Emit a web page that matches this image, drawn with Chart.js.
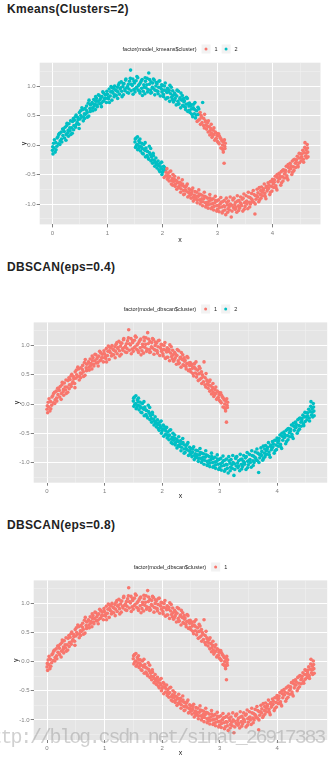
<!DOCTYPE html>
<html>
<head>
<meta charset="utf-8">
<script src="https://cdn.jsdelivr.net/npm/chart.js@4/dist/chart.umd.min.js"></script>
<style>
  html, body { margin: 0; padding: 0; background: #fff; }
  body { position: relative; width: 335px; height: 757px; overflow: hidden; font-family: "Liberation Sans", Arial, sans-serif; }
  .heading { position: absolute; left: 7px; margin: 0; font-size: 12px; line-height: 14px; font-weight: bold; letter-spacing: 0.3px; color: #222; }
  canvas { position: absolute; left: 0; }
  .mark { position: absolute; left: -19px; top: 728px; font-family: "Liberation Mono", monospace; font-size: 20px; line-height: 20px; letter-spacing: -2.2px; color: rgba(150,150,150,0.45); white-space: nowrap; }
</style>
</head>
<body>
<h3 class="heading" style="top:2px">Kmeans(Clusters=2)</h3>
<canvas id="kmeansChart" width="335" height="212" style="top:38px"></canvas>
<h3 class="heading" style="top:260px">DBSCAN(eps=0.4)</h3>
<canvas id="dbscan04Chart" width="335" height="206" style="top:298px"></canvas>
<h3 class="heading" style="top:518px">DBSCAN(eps=0.8)</h3>
<canvas id="dbscan08Chart" width="335" height="201" style="top:556px"></canvas>
<div class="mark">http://blog.csdn.net/sinat_26917383</div>
<script>
// two moons, split in four pieces so each clustering can regroup them
const upperArc = [
  [0.00,-0.09],[0.01,-0.15],[0.02,0.03],[0.03,-0.05],[0.05,-0.12],[0.06,0.04],[0.08,-0.02],
  [0.10,0.14],[0.11,0.02],[0.13,0.20],[0.14,0.07],[0.16,0.22],[0.17,0.05],[0.19,0.16],
  [0.20,0.27],[0.22,0.12],[0.23,0.30],[0.25,0.18],[0.26,0.33],[0.28,0.21],[0.29,0.15],
  [0.30,0.36],[0.32,0.24],[0.33,0.41],[0.35,0.29],[0.36,0.20],[0.38,0.45],[0.39,0.33],
  [0.40,0.42],[0.42,0.30],[0.43,0.51],[0.45,0.38],[0.46,0.47],[0.48,0.35],[0.49,0.55],
  [0.50,0.44],[0.51,0.58],[0.53,0.47],[0.55,0.60],[0.56,0.41],[0.58,0.53],[0.59,0.62],
  [0.60,0.52],[0.62,0.66],[0.63,0.55],[0.65,0.71],[0.66,0.49],[0.68,0.62],[0.69,0.68],
  [0.70,0.58],[0.72,0.72],[0.73,0.63],[0.75,0.77],[0.76,0.66],[0.78,0.60],[0.79,0.74],
  [0.80,0.79],[0.81,0.68],[0.83,0.74],[0.85,0.84],[0.86,0.70],[0.88,0.80],[0.89,0.65],
  [0.90,0.82],[0.92,0.74],[0.93,0.88],[0.95,0.79],[0.96,0.85],[0.98,0.72],[0.99,0.91],
  [1.00,0.86],[1.02,0.78],[1.03,0.95],[1.05,0.83],[1.06,0.90],[1.08,0.76],[1.09,0.97],
  [1.10,0.88],[1.12,0.82],[1.13,1.00],[1.15,0.93],[1.16,0.84],[1.18,0.98],[1.19,0.90],
  [1.20,1.02],[1.22,0.86],[1.23,0.95],[1.25,1.07],[1.26,0.91],[1.28,0.99],[1.29,0.85],
  [1.30,1.04],[1.32,0.92],[1.33,1.10],[1.35,0.97],[1.36,0.89],[1.38,1.03],[1.39,0.95],
  [1.40,1.08],[1.42,1.27],[1.43,0.92],[1.45,1.01],[1.46,1.12],[1.48,0.94],[1.49,1.05],
  [1.50,0.90],[1.52,1.09],[1.53,0.98],[1.55,1.14],[1.56,0.93],[1.58,1.03],[1.59,0.88],
  [1.60,1.06],[1.62,0.96],[1.63,1.11],[1.65,0.91],[1.66,1.02],[1.68,0.87],[1.69,1.08],
  [1.70,0.97],[1.72,1.13],[1.73,0.90],[1.75,1.22],[1.76,1.03],[1.78,0.93],[1.79,1.07],
  [1.80,0.89],[1.82,1.05],[1.83,0.96],[1.85,1.10],[1.86,0.85],[1.88,1.00],[1.89,0.92],
  [1.90,1.04],[1.92,0.87],[1.93,0.98],[1.95,1.09],[1.96,0.83],[1.98,0.95],[1.99,0.90],
  [2.00,1.01],[2.02,0.82],[2.03,0.93],[2.05,1.05],[2.06,0.78],[2.08,0.89],[2.09,0.96],
  [2.10,0.80],[2.12,0.93],[2.13,0.74],[2.15,0.87],[2.16,0.98],[2.18,0.77],[2.19,0.84],
  [2.20,0.73],[2.22,0.88],[2.23,0.79],[2.25,0.68],[2.26,0.83],[2.28,0.74],[2.29,0.91],
  [2.30,0.70],[2.32,0.80],[2.33,0.63],[2.35,0.76],[2.36,0.84],[2.38,0.66],[2.39,0.73],
  [2.40,0.75],[2.42,0.60],[2.43,0.69],[2.45,0.79],[2.46,0.57],[2.48,0.66],[2.49,0.71],
  [2.50,0.55],[2.52,0.68],[2.53,0.61],[2.55,0.48],[2.56,0.63],[2.58,0.53],[2.59,0.72],
  [2.60,0.46],[2.62,0.58],[2.65,0.52],[2.66,0.61],[2.73,0.72],
  [0.005,-0.03],[0.035,0.09],[0.065,-0.08],[0.085,0.12],
  [0.115,0.18],[0.135,0.01],[0.165,0.10],[0.185,0.27],
  [0.215,0.23],[0.245,0.08],[0.265,0.37],[0.285,0.25],
  [0.315,0.29],[0.335,0.18],[0.365,0.40],[0.385,0.26],
  [0.415,0.48],[0.435,0.35],[0.465,0.43],[0.485,0.28],
  [0.515,0.50],[0.535,0.63],[0.565,0.48],[0.585,0.45],
  [0.615,0.59],[0.635,0.47],[0.665,0.76],[0.685,0.57],
  [0.715,0.70],[0.735,0.58],[0.765,0.69],[0.785,0.82],
  [0.815,0.65],[0.835,0.85],[0.865,0.77],[0.885,0.71],
  [0.915,0.90],[0.935,0.75],[0.965,0.79],[0.985,0.86],
  [1.015,0.81],[1.035,0.72],[1.065,0.99],[1.085,0.91],
  [1.115,0.96],[1.135,0.85],[1.165,0.92],[1.185,0.79],
  [1.215,1.05],[1.235,0.97],[1.265,0.82],[1.285,1.04],
  [1.315,0.95],[1.335,1.12],[1.365,0.99],[1.385,0.88],
  [1.415,1.13],[1.435,1.03],[1.465,0.86],[1.485,1.08],
  [1.515,0.96],[1.535,1.16],[1.565,1.01],[1.585,0.91],
  [1.615,1.09],[1.635,0.84],[1.665,0.98],[1.685,1.14],
  [1.715,1.02],[1.735,0.94],[1.765,1.11],[1.785,0.88],
  [1.815,0.98],[1.835,1.12],[1.865,0.93],[1.885,1.06],
  [1.915,0.91],[1.935,1.08],[1.965,0.97],[1.985,1.02],
  [2.015,0.86],[2.035,1.00],[2.065,0.92],[2.085,0.80],
  [2.115,0.90],[2.135,1.01],[2.165,0.81],[2.185,0.92],
  [2.215,0.76],[2.235,0.85],[2.265,0.93],[2.285,0.69],
  [2.315,0.78],[2.335,0.88],[2.365,0.67],[2.385,0.79],
  [2.415,0.64],[2.435,0.81],[2.465,0.70],[2.485,0.59],
  [2.515,0.66],[2.535,0.52],[2.565,0.69],[2.585,0.60],
  [2.615,0.51],[2.645,0.64]
];
const upperTip = [
  [2.63,0.40],[2.68,0.44],[2.69,0.35],
  [2.70,0.50],[2.72,0.38],[2.75,0.45],[2.76,0.29],[2.78,0.41],[2.79,0.34],
  [2.80,0.27],[2.82,0.38],[2.83,0.22],[2.85,0.31],[2.86,0.17],[2.88,0.28],[2.89,0.20],
  [2.90,0.13],[2.92,0.25],[2.93,0.18],[2.95,0.08],[2.96,0.22],[2.98,0.11],[2.99,0.16],
  [3.00,0.06],[3.02,0.19],[3.03,0.02],[3.05,0.12],[3.06,-0.05],[3.08,0.07],[3.09,0.00],
  [3.10,-0.08],[3.11,0.05],[3.12,-0.31],[3.13,-0.02],[3.14,0.03],
  [2.655,0.42],[2.685,0.55],[2.715,0.47],[2.745,0.33],[2.765,0.52],[2.785,0.39],
  [2.815,0.32],[2.835,0.41],[2.865,0.24],[2.885,0.35],
  [2.915,0.16],[2.935,0.29],[2.965,0.10],[2.985,0.20],
  [3.015,0.04],[3.035,0.15],[3.065,0.10],[3.085,-0.06],[3.105,-0.12],[3.125,0.09],[3.135,-0.06]
];
const lowerHead = [
  [1.50,0.05],[1.51,-0.04],[1.52,0.12],[1.54,0.01],[1.55,-0.08],[1.57,0.07],[1.58,-0.02],[1.59,0.10],
  [1.60,-0.10],[1.62,0.03],[1.63,-0.06],[1.65,-0.15],[1.66,0.01],[1.68,-0.09],[1.69,-0.20],
  [1.70,-0.05],[1.72,-0.18],[1.73,-0.11],[1.75,-0.24],[1.76,-0.02],[1.78,-0.16],[1.79,-0.27],
  [1.80,-0.20],[1.82,-0.31],[1.83,-0.14],[1.85,-0.26],[1.86,-0.36],[1.88,-0.22],[1.89,-0.30],
  [1.90,-0.39],[1.92,-0.27],[1.93,-0.35],[1.95,-0.45],[1.96,-0.31],[1.98,-0.40],[1.99,-0.50],
  [2.00,-0.46],[2.02,-0.36],[2.05,-0.43],
  [1.505,0.10],[1.525,-0.01],[1.545,0.14],[1.565,-0.06],[1.585,0.04],
  [1.615,-0.03],[1.635,-0.14],[1.665,-0.07],[1.685,0.04],
  [1.715,-0.10],[1.735,-0.21],[1.765,-0.13],[1.785,-0.06],
  [1.815,-0.25],[1.835,-0.18],[1.865,-0.29],[1.885,-0.33],
  [1.915,-0.33],[1.935,-0.42],[1.965,-0.37],[1.985,-0.29],
  [2.015,-0.43],[2.035,-0.38]
];
const lowerArc = [
  [2.03,-0.55],[2.06,-0.52],[2.08,-0.40],[2.09,-0.58],
  [2.10,-0.48],[2.12,-0.61],[2.13,-0.53],[2.15,-0.44],[2.16,-0.66],[2.18,-0.57],[2.19,-0.50],
  [2.20,-0.62],[2.22,-0.53],[2.23,-0.70],[2.25,-0.60],[2.26,-0.75],[2.28,-0.64],[2.29,-0.56],
  [2.30,-0.72],[2.32,-0.63],[2.33,-0.80],[2.35,-0.68],[2.36,-0.59],[2.38,-0.77],[2.39,-0.70],
  [2.40,-0.83],[2.42,-0.71],[2.43,-0.78],[2.45,-0.66],[2.46,-0.88],[2.48,-0.74],[2.49,-0.81],
  [2.50,-0.76],[2.52,-0.90],[2.53,-0.82],[2.55,-0.73],[2.56,-0.95],[2.58,-0.85],[2.59,-0.79],
  [2.60,-0.91],[2.62,-0.80],[2.63,-0.98],[2.65,-0.87],[2.66,-0.76],[2.68,-0.93],[2.69,-0.84],
  [2.70,-0.96],[2.72,-0.85],[2.73,-1.03],[2.75,-0.91],[2.76,-0.80],[2.78,-0.98],[2.79,-0.88],
  [2.80,-1.02],[2.82,-0.90],[2.83,-1.07],[2.85,-0.95],[2.86,-0.84],[2.88,-1.00],[2.89,-0.93],
  [2.90,-1.06],[2.92,-0.91],[2.93,-1.10],[2.95,-0.98],[2.96,-0.87],[2.98,-1.03],[2.99,-0.95],
  [3.00,-1.09],[3.02,-0.93],[3.03,-1.13],[3.05,-1.00],[3.06,-0.89],[3.08,-1.05],[3.09,-0.96],
  [3.10,-1.12],[3.12,-0.94],[3.13,-1.04],[3.15,-1.18],[3.16,-0.90],[3.18,-1.01],[3.19,-1.08],
  [3.20,-0.95],[3.22,-1.10],[3.23,-0.88],[3.25,-1.22],[3.26,-1.02],[3.28,-0.93],[3.29,-1.06],
  [3.30,-0.90],[3.32,-1.09],[3.33,-0.97],[3.35,-1.14],[3.36,-0.86],[3.38,-1.03],[3.39,-0.94],
  [3.40,-1.07],[3.42,-0.88],[3.43,-1.00],[3.45,-0.92],[3.46,-1.12],[3.48,-0.83],[3.49,-0.98],
  [3.50,-1.04],[3.52,-0.86],[3.53,-0.95],[3.55,-1.08],[3.56,-0.80],[3.58,-0.97],[3.59,-0.89],
  [3.60,-1.00],[3.62,-0.82],[3.63,-0.93],[3.65,-0.77],[3.66,-0.97],[3.68,-1.17],[3.69,-0.86],
  [3.70,-0.92],[3.72,-0.75],[3.73,-0.88],[3.75,-0.96],[3.76,-0.72],[3.78,-0.84],[3.79,-0.90],
  [3.80,-0.71],[3.82,-0.86],[3.83,-0.77],[3.85,-0.66],[3.86,-0.82],[3.88,-0.91],[3.89,-0.70],
  [3.90,-0.78],[3.92,-0.64],[3.93,-0.73],[3.95,-0.84],[3.96,-0.62],[3.98,-0.70],[3.99,-0.78],
  [4.00,-0.58],[4.02,-0.72],[4.03,-0.63],[4.05,-0.53],[4.06,-0.69],[4.08,-0.76],[4.09,-0.55],
  [4.10,-0.62],[4.12,-0.48],[4.13,-0.57],[4.15,-0.68],[4.16,-0.45],[4.18,-0.54],[4.19,-0.61],
  [4.20,-0.42],[4.22,-0.56],[4.23,-0.47],[4.25,-0.36],[4.26,-0.52],[4.28,-0.59],[4.29,-0.38],
  [4.30,-0.45],[4.32,-0.31],[4.33,-0.40],[4.35,-0.50],[4.36,-0.27],[4.38,-0.37],[4.39,-0.43],
  [4.40,-0.24],[4.42,-0.38],[4.43,-0.29],[4.45,-0.19],[4.46,-0.34],[4.48,-0.22],[4.49,-0.30],
  [4.50,-0.15],[4.52,-0.27],[4.53,-0.20],[4.55,-0.09],[4.56,-0.24],[4.58,-0.13],[4.59,0.04],
  [4.60,-0.19],[4.61,-0.08],[4.62,-0.22],[4.63,0.01],[4.64,-0.12],
  [2.065,-0.46],[2.085,-0.53],
  [2.115,-0.55],[2.135,-0.45],[2.165,-0.60],[2.185,-0.68],
  [2.215,-0.58],[2.235,-0.66],[2.265,-0.62],[2.285,-0.71],
  [2.315,-0.68],[2.335,-0.74],[2.365,-0.66],[2.385,-0.84],
  [2.415,-0.76],[2.435,-0.69],[2.465,-0.80],[2.485,-0.86],
  [2.515,-0.84],[2.535,-0.77],[2.565,-0.88],[2.585,-0.92],
  [2.615,-0.87],[2.635,-0.93],[2.665,-0.83],[2.685,-1.00],
  [2.715,-0.91],[2.735,-0.96],[2.765,-0.87],[2.785,-1.05],
  [2.815,-0.97],[2.835,-1.01],[2.865,-0.90],[2.885,-1.08],
  [2.915,-0.99],[2.935,-1.04],[2.965,-0.94],[2.985,-1.12],
  [3.015,-1.02],[3.035,-1.06],[3.065,-0.97],[3.085,-1.15],
  [3.115,-1.03],[3.135,-1.10],[3.165,-0.97],[3.185,-1.14],
  [3.215,-1.04],[3.235,-1.00],[3.265,-1.12],[3.285,-0.91],
  [3.315,-1.01],[3.335,-1.06],[3.365,-0.95],[3.385,-1.11],
  [3.415,-0.98],[3.435,-1.03],[3.465,-0.90],[3.485,-1.09],
  [3.515,-0.96],[3.535,-1.00],[3.565,-0.88],[3.585,-1.05],
  [3.615,-0.91],[3.635,-0.96],[3.665,-0.84],[3.685,-1.00],
  [3.715,-0.86],[3.735,-0.81],[3.765,-0.93],[3.785,-0.77],
  [3.815,-0.80],[3.835,-0.74],[3.865,-0.87],[3.885,-0.72],
  [3.915,-0.75],[3.935,-0.68],[3.965,-0.80],[3.985,-0.62],
  [4.015,-0.66],[4.035,-0.59],[4.065,-0.73],[4.085,-0.50],
  [4.115,-0.57],[4.135,-0.52],[4.165,-0.64],[4.185,-0.43],
  [4.215,-0.49],[4.235,-0.43],[4.265,-0.56],[4.285,-0.33],
  [4.315,-0.40],[4.335,-0.35],[4.365,-0.46],[4.385,-0.25],
  [4.415,-0.31],[4.435,-0.25],[4.465,-0.37],[4.485,-0.14],
  [4.515,-0.22],[4.535,-0.15],[4.565,-0.29],[4.585,-0.04],
  [4.615,-0.14],[4.635,-0.05],[4.645,-0.20]
];

const xLimits = [-0.232, 4.872];
const yLimits = [-1.345, 1.395];
const xBreaks = [0, 1, 2, 3, 4];
const xBreakLabels = ['0', '1', '2', '3', '4'];
const xMinorBreaks = [0.5, 1.5, 2.5, 3.5, 4.5];
const yBreaks = [-1, -0.5, 0, 0.5, 1];
const yBreakLabels = ['-1.0', '-0.5', '0.0', '0.5', '1.0'];
const yMinorBreaks = [-1.25, -0.75, -0.25, 0.25, 0.75, 1.25];

const clusterColors = ['#F8766D', '#00BFC4'];

// grey ggplot panel behind the grid
const panelBackground = {
  id: 'panelBackground',
  beforeDraw(chart) {
    const { ctx, chartArea: a } = chart;
    ctx.save();
    ctx.fillStyle = '#E5E5E5';
    ctx.fillRect(a.left, a.top, a.right - a.left, a.bottom - a.top);
    ctx.restore();
  }
};

// legend in one row: factor title, then key boxes with labels
const factorLegend = {
  id: 'factorLegend',
  afterDraw(chart, args, opts) {
    const ctx = chart.ctx;
    const sets = chart.data.datasets;
    const key = 9;
    ctx.save();
    ctx.font = '5.5px "Liberation Sans"';
    ctx.textBaseline = 'middle';
    const titleW = ctx.measureText(opts.title).width;
    let total = titleW + 5;
    sets.forEach(ds => { total += key + 4 + ctx.measureText(ds.label).width + 4; });
    total -= 4;
    let x = (chart.chartArea.left + chart.chartArea.right) / 2 - total / 2;
    const y = opts.y;
    ctx.fillStyle = '#222';
    ctx.fillText(opts.title, x, y);
    x += titleW + 5;
    sets.forEach(ds => {
      ctx.fillStyle = '#F2F2F2';
      ctx.fillRect(x, y - key / 2, key, key);
      ctx.fillStyle = ds.backgroundColor;
      ctx.beginPath();
      ctx.arc(x + key / 2, y, 1.5, 0, Math.PI * 2);
      ctx.fill();
      x += key + 4;
      ctx.fillStyle = '#222';
      ctx.fillText(ds.label, x, y);
      x += ctx.measureText(ds.label).width + 4;
    });
    ctx.restore();
  }
};

function axisScale(isX, size, titlePad) {
  const breaks = isX ? xBreaks : yBreaks;
  const labels = isX ? xBreakLabels : yBreakLabels;
  const minor = isX ? xMinorBreaks : yMinorBreaks;
  const lims = isX ? xLimits : yLimits;
  const isMajor = v => breaks.some(b => Math.abs(b - v) < 1e-9);
  return {
    type: 'linear',
    position: isX ? 'bottom' : 'left',
    min: lims[0],
    max: lims[1],
    afterBuildTicks: s => { s.ticks = breaks.concat(minor).sort((a, b) => a - b).map(v => ({ value: v })); },
    afterFit: s => { if (isX) s.height = size; else s.width = size; },
    border: { display: false },
    grid: {
      color: c => (c.tick && isMajor(c.tick.value)) ? '#FFFFFF' : '#F2F2F2',
      lineWidth: c => (c.tick && isMajor(c.tick.value)) ? 1 : 0.5,
      tickColor: c => (c.tick && isMajor(c.tick.value)) ? '#7F7F7F' : 'rgba(0,0,0,0)',
      tickLength: 3,
      tickWidth: 1
    },
    ticks: {
      autoSkip: false,
      maxRotation: 0,
      minRotation: 0,
      padding: isX ? 2 : 1,
      color: '#7F7F7F',
      font: { family: 'Liberation Sans', size: 6 },
      callback: v => {
        const i = breaks.findIndex(b => Math.abs(b - v) < 1e-9);
        return i < 0 ? '' : labels[i];
      }
    },
    title: {
      display: true,
      text: isX ? 'x' : 'y',
      color: '#222',
      font: { family: 'Liberation Sans', size: 7 },
      padding: isX ? { top: 0, bottom: titlePad } : { top: titlePad, bottom: 0 }
    }
  };
}

function drawPanel(id, factorTitle, clusters, box) {
  const datasets = clusters.map((pts, i) => ({
    label: String(i + 1),
    data: pts,
    backgroundColor: clusterColors[i],
    pointRadius: 1.8,
    pointBorderWidth: 0,
    pointHoverRadius: 1.8
  }));
  return new Chart(document.getElementById(id), {
    type: 'scatter',
    data: { datasets },
    plugins: [panelBackground, factorLegend],
    options: {
      responsive: false,
      animation: false,
      events: [],
      layout: { padding: { left: 0, top: box.top, right: box.right, bottom: 0 } },
      scales: {
        x: axisScale(true, box.xHeight, box.xTitlePad),
        y: axisScale(false, box.yWidth, box.yTitlePad)
      },
      plugins: {
        legend: { display: false },
        tooltip: { enabled: false },
        factorLegend: { title: factorTitle, y: 11 }
      }
    }
  });
}

drawPanel('kmeansChart', 'factor(model_kmeans$cluster)',
  [upperTip.concat(lowerArc), upperArc.concat(lowerHead)],
  { top: 24.7, right: 14.5, xHeight: 25.6, xTitlePad: 6, yWidth: 39.7, yTitlePad: 20 });

drawPanel('dbscan04Chart', 'factor(model_dbscan$cluster)',
  [upperArc.concat(upperTip), lowerHead.concat(lowerArc)],
  { top: 24.4, right: 7.8, xHeight: 21.3, xTitlePad: 4, yWidth: 33.7, yTitlePad: 13 });

drawPanel('dbscan08Chart', 'factor(model_dbscan$cluster)',
  [upperArc.concat(upperTip, lowerHead, lowerArc)],
  { top: 24.4, right: 7.8, xHeight: 17, xTitlePad: 0, yWidth: 33.7, yTitlePad: 12 });
</script>
</body>
</html>
